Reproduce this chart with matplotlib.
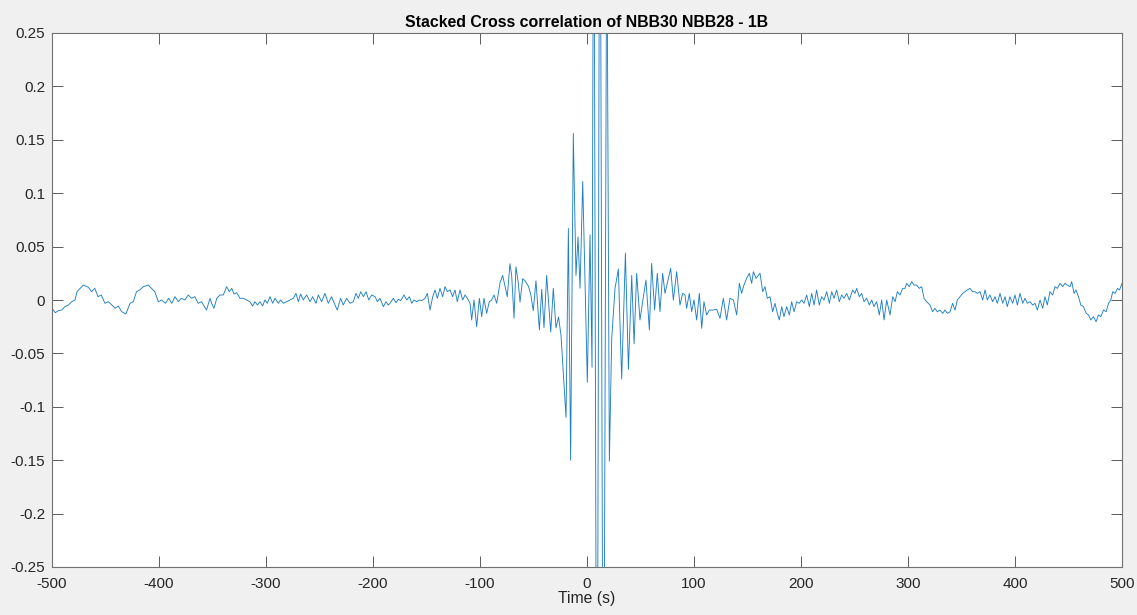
import numpy as np
import matplotlib.pyplot as plt

plt.rcParams['font.family'] = ['Liberation Sans', 'DejaVu Sans']

# lag (s) / stacked correlation values, left to right
t_far_left = [-500, -496.9, -494.1, -491, -487.9, -484.7, -481.6, -478.5, -476.6, -470.7,
              -466, -463, -460, -457, -454, -450.5, -447.4, -444, -441, -438,
              -435, -431, -427, -424, -421, -418, -414.5, -410, -407, -404,
              -400.6, -397.5, -394, -391, -388, -385, -382, -379, -375.8, -372.7,
              -369.6, -366.5, -363.4, -360.3, -355.6]
c_far_left = [-0.0078, -0.0119, -0.010, -0.0094, -0.0062, -0.0047, -0.0016, 0, 0.0078, 0.014,
              0.0119, 0.0078, 0.0109, 0.0031, 0.0047, -0.0031, -0.0016, -0.0047, -0.0078, -0.0056,
              -0.0109, -0.0131, -0.0031, -0.0016, 0.0078, 0.0094, 0.0125, 0.014, 0.0109, 0.0078,
              -0.0016, 0, -0.0031, 0.0016, -0.0031, 0.0031, -0.0016, 0.0016, 0, 0.0047,
              0.0016, 0.0031, -0.0031, -0.0016, -0.0094]

t_left = [-352.3, -350.8, -348.6, -346, -343, -339.9, -336.8, -334.3, -332, -329.9,
          -327.4, -324.3, -321.2, -318, -315, -312.5, -310.3, -308, -305.6, -303.2,
          -301, -298.8, -296.2, -293.8, -291.6, -288.5, -286.3, -283.8, -280.7, -277.6,
          -274.5, -272, -269.8, -267.6, -265.2, -262, -258.9, -256.4, -253.3, -251.1,
          -248, -244.9, -241.8, -238.7, -235.5, -233.4, -230.3, -227.8, -224.7, -221.5,
          -218.4, -215.9, -213.7, -211.5, -209, -206.5, -204, -201.2, -198.1, -195.9,
          -193.5, -190.3, -187.8, -185.7, -184.1]
c_left = [0.0016, -0.0031, -0.0078, 0.0016, 0.0047, 0.0047, 0.0125, 0.0078, 0.0109, 0.0056,
          0.0069, 0.0016, 0.0016, 0, -0.0016, -0.0056, -0.0016, -0.0047, -0.0016, -0.0056,
          0, -0.0031, 0.0031, -0.0031, 0.0016, -0.0031, 0, -0.0031, -0.0016, 0,
          0.0016, 0.0062, -0.0016, 0.0056, 0, 0.0047, -0.0016, 0.0031, -0.0031, 0.0047,
          -0.0016, 0.0062, -0.0031, 0.0031, -0.0047, -0.0094, 0.0016, -0.0047, 0.0016, -0.0031,
          -0.0016, 0.0062, 0.0016, 0.0078, 0.0031, 0.0078, 0, 0.0047, 0.0031, -0.0016,
          0.0016, -0.0062, -0.0016, -0.0047, -0.0031]

t_near_left = [-181, -178.5, -176.3, -174.1, -171, -168.5, -166, -163.8, -161.7, -159.2,
               -156.7, -154.5, -151.4, -149.2, -146.7, -144.2, -142, -139.9, -137.4, -134.9,
               -132.7, -130.5, -128, -125.6, -123.4, -121.2, -118.7, -116.2, -114, -111.8,
               -109.3, -107.8, -105.6, -103.1, -100.6, -98.4, -96.3, -93.8, -91.3, -89.1,
               -86.9, -84.4]
c_near_left = [0.0016, -0.0025, 0.0006, -0.0006, 0.0047, 0, 0.0031, -0.0031, 0, -0.0016,
               0, -0.0006, 0.0016, 0.0062, -0.0094, 0.0031, 0.0094, 0.0016, 0.0109, 0.0031,
               0.0125, 0.0078, 0.0094, 0.0031, 0.0094, -0.0016, 0.0094, 0, 0.0047, 0.0016,
               -0.0031, -0.0187, 0, -0.025, 0.0016, -0.0156, 0.0016, -0.0125, -0.0016, 0,
               0.0047, -0.0031]

t_center = [-81.3, -78.8, -76.6, -74.5, -72.0, -70.4, -68.2, -66.4, -64.2, -62.6,
            -60.1, -57.9, -54.8, -52.7, -50.2, -47.7, -44.5, -42.3, -40.2, -37.7,
            -33.9, -31.5, -29.0, -26.6, -24.3, -19.6, -17.4, -15.3, -12.8, -10.3,
            -8.4, -6.5, -4.0, 0.3, 2.8, 4.7, 6.3, 9.3, 12.0, 15.3,
            18.5, 20.9, 23.1, 26.2, 29.3, 32.4, 35.9, 38.7, 41.8, 44.0]
c_center = [0.016, 0.023, 0.013, 0.003, 0.034, 0.023, -0.017, 0.031, 0.016, -0.002,
            0.020, 0.018, 0.013, 0.006, -0.010, 0.018, -0.028, 0.010, -0.026, 0.023,
            -0.030, 0.011, -0.026, -0.016, -0.033, -0.110, 0.067, -0.150, 0.156, 0.023,
            0.059, 0.011, 0.111, -0.077, 0.061, -0.063, 0.50, -0.60, 0.55, -0.55,
            0.38, -0.151, -0.036, 0.011, 0.029, -0.074, 0.044, -0.065, 0.023, -0.041]

t_near_right = [46.4, 49.5, 52, 55.1, 58.3, 60.4, 63.2, 65.7, 68.2, 70.7,
                72.9, 75, 78.2, 80.7, 83.8, 86.9, 89.4, 91.6, 93.1, 95.6,
                97.8, 100, 102.5, 105, 107.2, 109.3, 111.8, 114.3, 118, 121.2,
                124.3, 127.4, 130.5, 133.6, 136.8, 139.9, 142.4, 144.5, 146.7, 149.2,
                151.7, 153.9, 155.5, 158]
c_near_right = [0.025, -0.0187, -0.0016, 0.0187, -0.0281, 0.0343, -0.0094, 0.025, -0.0109, 0.025,
                0.0062, 0.0156, 0.0297, 0, 0.0265, -0.0047, 0.0062, 0.0047, -0.0078, 0.0062,
                -0.0109, 0, -0.0187, 0.0062, -0.0265, -0.0016, -0.014, -0.0094, -0.0094, -0.0087,
                -0.0172, 0.0016, -0.0187, 0.0016, 0, -0.014, 0.0156, 0.0062, 0.014, 0.0203,
                0.025, 0.0156, 0.0265, 0.0203]

t_right = [161.7, 164.2, 166.4, 168.5, 171, 173.5, 175.7, 177.9, 179.75, 182,
           184.1, 186.6, 189.1, 191.3, 193.5, 196, 198.4, 200.6, 202.8, 205.3,
           207.8, 210, 212.2, 214.6, 217.1, 219.3, 221.5, 224, 226.5, 228.7,
           230.9, 233.3, 235.8, 238, 240.2, 242.7, 245.2, 248.3, 250.5, 252,
           254.5, 256.7, 258.9, 261.4, 263.9, 266.1, 268.2, 270.7, 273.2, 275.4,
           277.6, 280.1, 283.2, 285.7, 287.9, 290.1, 292.5, 295, 297.2, 298.8,
           301.2, 303.4, 305.6, 308.1, 310.6, 312.8, 315, 317.4]
c_right = [0.025, 0.0078, 0.0125, 0.0016, 0.0031, -0.011, -0.0031, -0.0125, -0.0187, -0.0062,
           -0.0156, -0.0062, -0.014, -0.0016, -0.011, -0.0016, -0.0031, 0, -0.0031, 0.0047,
           -0.0062, 0.0062, -0.0047, 0.0094, -0.0047, 0.0031, 0, 0.0078, -0.0031, 0.0078,
           0.0016, 0.0094, -0.0016, 0.0047, 0.0016, 0.0062, 0, 0.0094, 0.0062, 0.0109,
           0.0031, 0.0062, -0.0016, 0.0016, -0.0047, 0, -0.0062, -0.0016, -0.014, 0,
           -0.0187, 0, -0.014, 0.0031, -0.0016, 0.0078, 0.0047, 0.0109, 0.0109, 0.0156,
           0.0125, 0.0172, 0.014, 0.014, 0.0109, 0.0125, 0.0016, -0.0016]

t_far_right = [320.6, 323, 325.2, 327.4, 329.9, 332.4, 334.6, 336.8, 339.3, 341.7,
               343.9, 346.1, 348.6, 351.1, 353.3, 355.5, 357.9, 360.4, 362.6, 364.8,
               367.3, 369.8, 372, 374.1, 376.6, 379.1, 381.3, 383.5, 386, 388.5,
               390.7, 392.8, 395.3, 397.8, 400, 402.2, 404.7, 407.2, 409.3, 411.5,
               414, 416.5, 418.7, 420.9, 423.4, 425.9, 428, 430.2, 432.7, 435.2,
               437.4, 439.6, 442.1, 444.6, 446.7, 448.9, 451.4, 453, 455.2, 457,
               459.3, 461.5, 464, 466.5, 468.7, 470.8, 473.3, 475.8, 478, 480.2,
               482.7, 485.2, 487.4, 489.5, 491.4, 493.6, 495.8, 497.7, 500]
c_far_right = [-0.0047, -0.011, -0.0078, -0.011, -0.0094, -0.0125, -0.0094, -0.0125, -0.011, -0.0031,
               -0.0094, 0, 0.0031, 0.0062, 0.0078, 0.0094, 0.0109, 0.0078, 0.0078, 0.0062,
               0.0078, 0, 0.0094, 0, 0.0047, -0.0016, 0.0031, -0.0031, 0.0062, -0.0031,
               0.0031, -0.0062, 0.0031, -0.0031, 0.0047, -0.0047, 0.0062, -0.0031, 0.0016, -0.0031,
               -0.0016, -0.0047, -0.0031, -0.0094, 0, -0.0078, 0.0031, -0.0047, 0.0078, 0.0047,
               0.0125, 0.0109, 0.0156, 0.0125, 0.0156, 0.014, 0.0125, 0.0172, 0.0062, 0.0094,
               0.0031, -0.0047, -0.0062, -0.0125, -0.014, -0.0187, -0.0156, -0.0203, -0.014, -0.0156,
               -0.0094, -0.011, -0.0031, 0, 0.0078, 0.0062, 0.0109, 0.0094, 0.0156]

x_ticks = [-500, -400, -300, -200, -100, 0, 100, 200, 300, 400, 500]
y_ticks = [-0.25, -0.2, -0.15, -0.1, -0.05, 0, 0.05, 0.1, 0.15, 0.2, 0.25]
y_labels = ['-0.25', '-0.2', '-0.15', '-0.1', '-0.05', '0', '0.05', '0.1', '0.15', '0.2', '0.25']

lag = np.concatenate([t_far_left, t_left, t_near_left, t_center, t_near_right, t_right, t_far_right])
xc = np.concatenate([c_far_left, c_left, c_near_left, c_center, c_near_right, c_right, c_far_right])

fig = plt.figure(figsize=(11.37, 6.15), dpi=100, facecolor='#f0f0f0')
ax = fig.add_axes([52/1137, 1-567/615, 1070/1137, 534/615])
ax.plot(lag, xc, color='#1f7fc4', lw=0.65)
ax.set_xlim(-500, 500)
ax.set_ylim(-0.25, 0.25)
ax.set_xticks(x_ticks)
ax.set_xticklabels([str(v) for v in x_ticks])
ax.set_yticks(y_ticks)
ax.set_yticklabels(y_labels)
ax.tick_params(direction='in', length=8, width=0.6, color='#404040',
               top=True, right=True, labelsize=11, labelcolor='#262626')
ax.tick_params(axis='x', pad=7)
ax.tick_params(axis='y', pad=5)
for s in ax.spines.values():
    s.set_color('#707070')
    s.set_linewidth(0.8)
ax.set_xlabel('Time (s)', fontsize=11.3, color='#262626', labelpad=0)
ax.set_title('Stacked Cross correlation of NBB30 NBB28 - 1B', fontsize=11.4,
             fontweight='bold', color='black', pad=4)
fig.savefig('out.png', dpi=100, facecolor=fig.get_facecolor())
